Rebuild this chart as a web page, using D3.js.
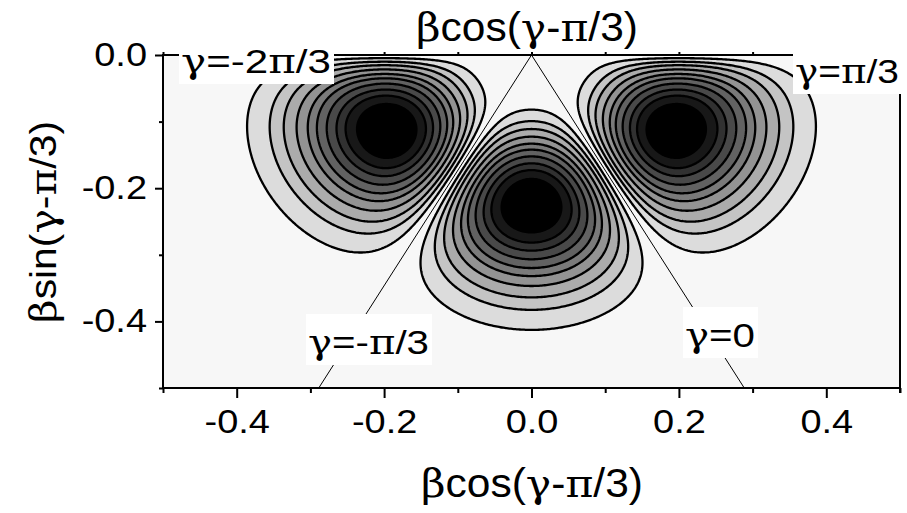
<!DOCTYPE html>
<html>
<head>
<meta charset="utf-8">
<script src="https://cdn.jsdelivr.net/npm/d3@7"></script>
<style>
body { margin: 0; background: #fff; }
text { font-family: "Liberation Sans", Arial, sans-serif; fill: #000; }
</style>
</head>
<body>
<div id="chart"></div>
<script>
// tick values
var xMajor = [-0.4, -0.2, 0.0, 0.2, 0.4];
var xMinor = [-0.5, -0.3, -0.1, 0.1, 0.3, 0.5];
var xTop = [-0.5, -0.4, -0.3, -0.2, -0.1, 0.0, 0.1, 0.2, 0.3, 0.4, 0.5];
var yMajor = [0.0, -0.2, -0.4];
var yMinor = [-0.1, -0.3, -0.5];

// contour levels, as fraction of the lobe maximum
var levels = [0.10, 0.19, 0.27, 0.36, 0.45, 0.53, 0.62, 0.71, 0.79, 0.88];

// lobe shape
var peakBeta = 0.225;   // radius of the three maxima
var radialOrder = 4;    // rise of the lobe from the origin
var angularOrder = 0.85; // power of |sin 3gamma|

// sector borders drawn as lines, and the labels of the borders
var sectorGamma = [-Math.PI / 3, 0];
var labelText = ["γ=-2π/3", "γ=π/3", "γ=-π/3", "γ=0"];
var xTitle = "βcos(γ-π/3)";
var yTitle = "βsin(γ-π/3)";

var W = 907, H = 513;
var svg = d3.select("#chart").append("svg").attr("width", W).attr("height", H);

var x = d3.scaleLinear().domain([-0.5, 0.5]).range([163, 900]);
var y = d3.scaleLinear().domain([-0.5, 0]).range([388, 55]);

// field on a grid
var nx = 501, ny = 251;
var dx = 1 / (nx - 1), dy = 0.5 / (ny - 1);
var values = new Float64Array(nx * ny);
for (var j = 0; j < ny; j++) {
  for (var i = 0; i < nx; i++) {
    var px = -0.5 + i * dx, py = -j * dy;
    var b = Math.sqrt(px * px + py * py), th = Math.atan2(py, px);
    var u = b / peakBeta;
    var f = Math.pow(u, radialOrder) * Math.exp(radialOrder / 2 * (1 - u * u));
    var g = Math.pow(Math.abs(Math.sin(3 * th)), angularOrder);
    values[j * nx + i] = f * g;
  }
}

var proj = d3.geoTransform({
  point: function(gx, gy) {
    this.stream.point(x(-0.5 + (gx - 0.5) * dx), y(-(gy - 0.5) * dy));
  }
});
var path = d3.geoPath(proj);
var contours = d3.contours().size([nx, ny]).thresholds(levels)(values);

var grey = d3.scaleLinear().domain([0, levels.length - 1]).range([220, 0]);

svg.append("clipPath").attr("id", "plotclip").append("rect")
  .attr("x", 163).attr("y", 55).attr("width", 737).attr("height", 333);

var plot = svg.append("g").attr("clip-path", "url(#plotclip)");
plot.append("rect").attr("x", 163).attr("y", 55).attr("width", 737).attr("height", 333).attr("fill", "#f7f7f7");

plot.selectAll("path.band").data(contours).enter().append("path")
  .attr("class", "band")
  .attr("d", path)
  .attr("fill", function(d, k) { var v = Math.round(grey(k)); return d3.rgb(v, v, v); })
  .attr("stroke", "#000")
  .attr("stroke-width", 2.3)
  .attr("stroke-linejoin", "round");

// sector lines from the origin
sectorGamma.forEach(function(gm) {
  var th = gm - Math.PI / 3;
  var t = -0.5 / Math.sin(th);
  plot.append("line")
    .attr("x1", x(0)).attr("y1", y(0))
    .attr("x2", x(t * Math.cos(th))).attr("y2", y(-0.5))
    .attr("stroke", "#000").attr("stroke-width", 1);
});

// axes
function fmt(d) { return Math.abs(d) < 1e-9 ? "0.0" : d.toFixed(1); }
var xa = svg.append("g").attr("transform", "translate(0,388)")
  .call(d3.axisBottom(x).tickValues(xMajor).tickSize(10).tickPadding(12).tickFormat(fmt));
svg.append("g").attr("transform", "translate(0,388)")
  .call(d3.axisBottom(x).tickValues(xMinor).tickSize(5).tickFormat(""));
var ya = svg.append("g").attr("transform", "translate(163,0)")
  .call(d3.axisLeft(y).tickValues(yMajor).tickSize(8).tickPadding(8).tickFormat(fmt));
svg.append("g").attr("transform", "translate(163,0)")
  .call(d3.axisLeft(y).tickValues(yMinor).tickSize(4).tickFormat(""));
svg.append("g").attr("transform", "translate(0,55)")
  .call(d3.axisTop(x).tickValues(xTop).tickSize(3).tickFormat(""));
svg.selectAll(".domain").remove();
svg.selectAll(".tick line").attr("stroke", "#000").attr("stroke-width", 2);
svg.selectAll(".tick text").attr("font-size", 33).attr("font-family", null).attr("fill", "#000");
xa.selectAll(".tick text").attr("transform", "scale(1.15,1)");
ya.selectAll(".tick text").attr("x", -16 / 1.15).attr("transform", "scale(1.15,1)");

// frame
var frame = svg.append("g").attr("stroke", "#000").attr("stroke-width", 2);
frame.append("line").attr("x1", 163).attr("y1", 54).attr("x2", 163).attr("y2", 389);
frame.append("line").attr("x1", 162).attr("y1", 388).attr("x2", 901).attr("y2", 388);
frame.append("line").attr("x1", 162).attr("y1", 55).attr("x2", 901).attr("y2", 55);
frame.append("line").attr("x1", 900).attr("y1", 54).attr("x2", 900).attr("y2", 393);

// text with greek letters in a serif face
function rich(t, s) {
  s.split(/([βγπ])/).forEach(function(part) {
    if (!part) return;
    var ts = t.append("tspan").text(part);
    if (/[βγπ]/.test(part)) ts.style("font-family", "'DejaVu Serif', serif");
  });
  return t;
}

// boxed sector labels
var labelPos = [[181, 73, 150], [795, 83, 104], [308, 354, 121], [685, 347, 70]];
labelText.forEach(function(s, k) {
  var p = labelPos[k];
  var g = svg.append("g");
  var t = g.append("text").attr("x", p[0]).attr("y", p[1]).attr("font-size", 33)
    .attr("textLength", p[2]).attr("lengthAdjust", "spacingAndGlyphs");
  rich(t, s);
  var bb = t.node().getBBox();
  g.insert("rect", "text").attr("x", bb.x - 2).attr("y", bb.y - 9)
    .attr("width", bb.width + 5).attr("height", bb.height + 12).attr("fill", "#fff");
});

// titles
rich(svg.append("text").attr("x", 527).attr("y", 41).attr("font-size", 40).attr("text-anchor", "middle")
  .attr("textLength", 222).attr("lengthAdjust", "spacingAndGlyphs"), xTitle);
rich(svg.append("text").attr("x", 532).attr("y", 497).attr("font-size", 40).attr("text-anchor", "middle")
  .attr("textLength", 222).attr("lengthAdjust", "spacingAndGlyphs"), xTitle);
rich(svg.append("text").attr("transform", "translate(56,222) rotate(-90)").attr("font-size", 37)
  .attr("text-anchor", "middle").attr("textLength", 202).attr("lengthAdjust", "spacingAndGlyphs"), yTitle);
</script>
</body>
</html>
